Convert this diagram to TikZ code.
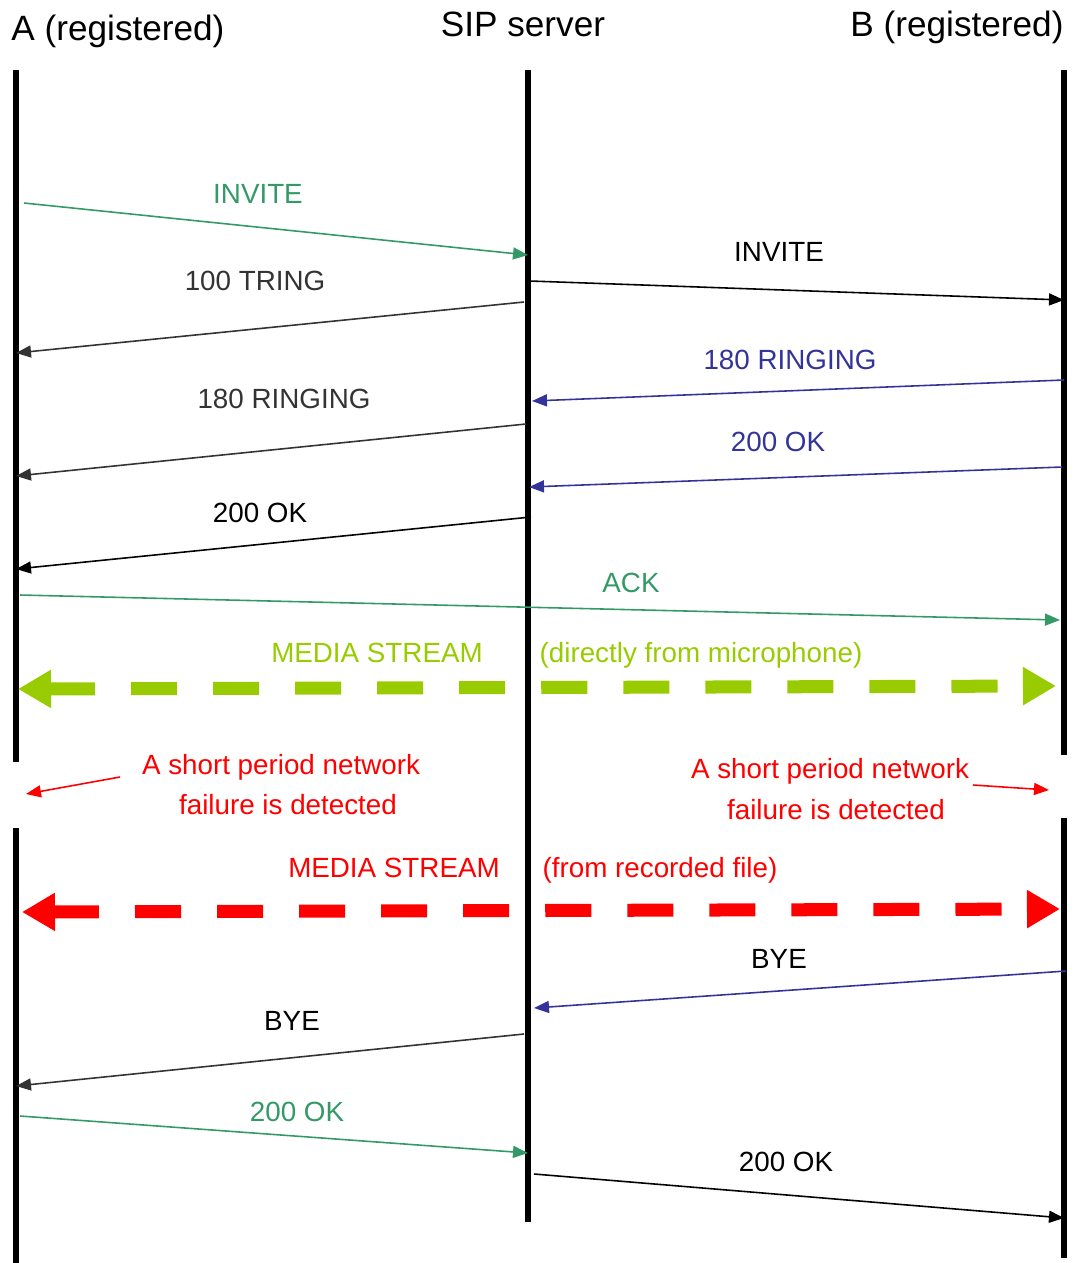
\documentclass[tikz,border=0pt]{standalone}
\usepackage{fontspec}
\setmainfont{Liberation Sans}
\usetikzlibrary{arrows.meta}
\definecolor{sipgreen}{HTML}{339966}
\definecolor{sipblue}{HTML}{333399}
\definecolor{sipgray}{HTML}{333333}
\definecolor{siplime}{HTML}{99CC00}
\begin{document}
\begin{tikzpicture}[x=0.01cm,y=-0.01cm,
  life/.style={line width=1.6pt},
  msg/.style={line width=0.45pt,-{Triangle[length=0.15cm,width=0.12cm]}},
  lbl/.style={font=\fontsize{7.9}{9}\selectfont,inner sep=0pt,anchor=base},
  ttl/.style={font=\fontsize{10}{12}\selectfont,inner sep=0pt,anchor=base},
  stream/.style={line width=0.13cm,dash pattern=on 0.46cm off 0.36cm,
    {Triangle[length=0.33cm,width=0.36cm]}-{Triangle[length=0.33cm,width=0.36cm]}}]
\useasboundingbox (0,0) rectangle (1076,1263);

\node[ttl] (ta) at (118,40) {A (registered)};
\node[ttl] (ts) at (523,36) {SIP server};
\node[ttl] (tb) at (957,36) {B (registered)};

% lifelines
\coordinate (a0) at (16,70);   \coordinate (a1) at (16,762);
\coordinate (a2) at (16,828);  \coordinate (a3) at (16,1263);
\coordinate (s0) at (528,70);  \coordinate (s1) at (528,1222);
\coordinate (b0) at (1064,70); \coordinate (b1) at (1064,755);
\coordinate (b2) at (1064,818);\coordinate (b3) at (1064,1258);
\draw[life] (a0) -- (a1) (a2) -- (a3);
\draw[life] (s0) -- (s1);
\draw[life] (b0) -- (b1) (b2) -- (b3);

% messages
\coordinate (m1s) at (24,203);   \coordinate (m1e) at (528,255);
\coordinate (m2s) at (524,302);  \coordinate (m2e) at (16,353);
\coordinate (m3s) at (530,281);  \coordinate (m3e) at (1064,300);
\coordinate (m4s) at (1064,380); \coordinate (m4e) at (532,401);
\coordinate (m5s) at (526,424);  \coordinate (m5e) at (16,476);
\coordinate (m6s) at (1062,467); \coordinate (m6e) at (529,487);
\coordinate (m7s) at (531,517);  \coordinate (m7e) at (16,569);
\coordinate (m8s) at (20,595);   \coordinate (m8e) at (1060,620);
\draw[msg,sipgreen] (m1s) -- (m1e);
\node[lbl,sipgreen] (l1) at (258,203) {INVITE};
\draw[msg,sipgray] (m2s) -- (m2e);
\node[lbl,sipgray] (l2) at (255,290) {100 TRING};
\draw[msg] (m3s) -- (m3e);
\node[lbl] (l3) at (779,261) {INVITE};
\draw[msg,sipblue] (m4s) -- (m4e);
\node[lbl,sipblue] (l4) at (790,369) {180 RINGING};
\draw[msg,sipgray] (m5s) -- (m5e);
\node[lbl,sipgray] (l5) at (284,408) {180 RINGING};
\draw[msg,sipblue] (m6s) -- (m6e);
\node[lbl,sipblue] (l6) at (778,451) {200 OK};
\draw[msg] (m7s) -- (m7e);
\node[lbl] (l7) at (260,522) {200 OK};
\draw[msg,sipgreen] (m8s) -- (m8e);
\node[lbl,sipgreen] (l8) at (631,592) {ACK};

% media stream from microphone
\coordinate (g0) at (18,689); \coordinate (g1) at (1056,686);
\draw[stream,siplime] (g0) -- (g1);
\node[lbl,siplime] (g2) at (377,662) {MEDIA STREAM};
\node[lbl,siplime] (g3) at (701,662) {(directly from microphone)};

% network failure
\node[lbl,red] (fa1) at (281,774) {A short period network};
\node[lbl,red] (fa2) at (288,814) {failure is detected};
\coordinate (fa3) at (120,777); \coordinate (fa4) at (26,794);
\draw[line width=0.45pt,red,-{Triangle[length=0.15cm,width=0.12cm]}] (fa3) -- (fa4);
\node[lbl,red] (fb1) at (830,778) {A short period network};
\node[lbl,red] (fb2) at (836,819) {failure is detected};
\coordinate (fb3) at (973,785); \coordinate (fb4) at (1049,790);
\draw[line width=0.45pt,red,-{Triangle[length=0.15cm,width=0.12cm]}] (fb3) -- (fb4);

% media stream from file
\coordinate (r0) at (22,912); \coordinate (r1) at (1060,909);
\draw[stream,red] (r0) -- (r1);
\node[lbl,red] (r2) at (394,877) {MEDIA STREAM};
\node[lbl,red] (r3) at (660,877) {(from recorded file)};

\coordinate (m9s) at (1066,971);  \coordinate (m9e) at (534,1008);
\coordinate (m10s) at (524,1034); \coordinate (m10e) at (16,1086);
\coordinate (m11s) at (20,1116);  \coordinate (m11e) at (528,1153);
\coordinate (m12s) at (534,1174); \coordinate (m12e) at (1064,1218);
\draw[msg,sipblue] (m9s) -- (m9e);
\node[lbl] (l9) at (779,968) {BYE};
\draw[msg,sipgray] (m10s) -- (m10e);
\node[lbl] (l10) at (292,1030) {BYE};
\draw[msg,sipgreen] (m11s) -- (m11e);
\node[lbl,sipgreen] (l11) at (297,1121) {200 OK};
\draw[msg] (m12s) -- (m12e);
\node[lbl] (l12) at (786,1171) {200 OK};
\end{tikzpicture}
\end{document}
